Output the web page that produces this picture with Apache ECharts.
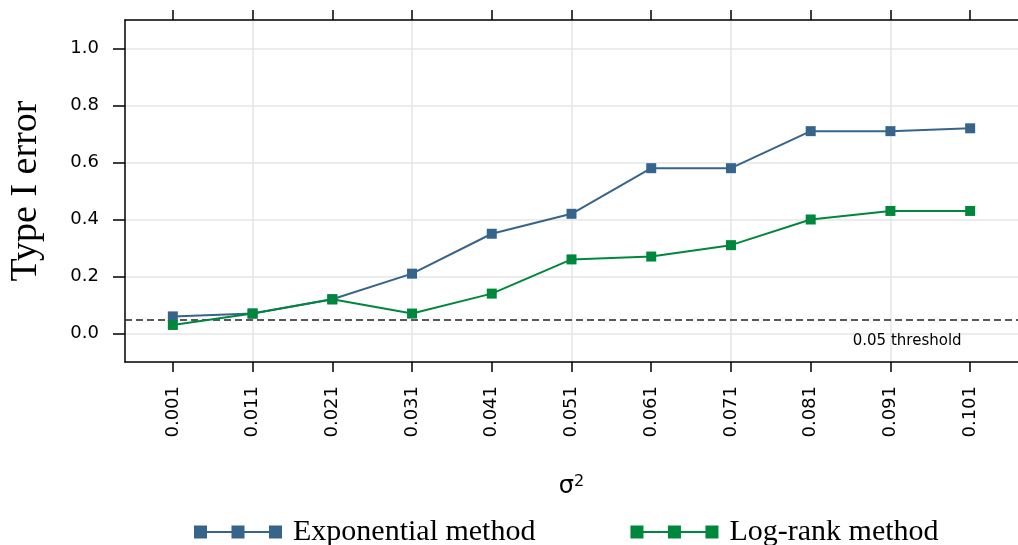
<!DOCTYPE html>
<html><head><meta charset="utf-8">
<script src="https://cdn.jsdelivr.net/npm/echarts@6/dist/echarts.min.js"></script>
<style>html,body{margin:0;padding:0;background:#fff}#c{width:1018px;height:545px}</style>
</head><body><div id="c"></div>
<script>
const sigma2 = [0.001, 0.011, 0.021, 0.031, 0.041, 0.051, 0.061, 0.071, 0.081, 0.091, 0.101];
const xTickLabels = ['0.001','0.011','0.021','0.031','0.041','0.051','0.061','0.071','0.081','0.091','0.101'];
const exponential = [0.06, 0.07, 0.12, 0.21, 0.35, 0.42, 0.58, 0.58, 0.71, 0.71, 0.72];
const logrank = [0.03, 0.07, 0.12, 0.07, 0.14, 0.26, 0.27, 0.31, 0.40, 0.43, 0.43];
const yTicks = [0, 0.2, 0.4, 0.6, 0.8, 1.0];
const xGridLines = [0.011, 0.031, 0.051, 0.071, 0.091];
const threshold = 0.05;
const seriesNames = ['Exponential method', 'Log-rank method'];
const colors = ['#36648b', '#00873e'];
const X_MIN = -0.005, X_MAX = 0.107, Y_MIN = -0.1, Y_MAX = 1.1;

const chart = echarts.init(document.getElementById('c'));
const legendIcon = 'path://M0,0H13V13H0Z M37.5,0H50.5V13H37.5Z M75,0H88V13H75Z M0,5.5H88V7.5H0Z';
const axisLineStyle = {color: '#000', width: 1.5};
chart.setOption({
  animation: false,
  grid: {left: 125, right: 0, top: 20, bottom: 183, containLabel: false, outerBoundsMode: 'none'},
  xAxis: [{
    type: 'value', min: X_MIN, max: X_MAX, position: 'bottom',
    axisLine: {show: true, onZero: false, lineStyle: axisLineStyle},
    axisTick: {show: true, length: 10, lineStyle: axisLineStyle, customValues: sigma2},
    axisLabel: {customValues: sigma2, rotate: 90, margin: 24, fontFamily: 'DejaVu Sans', fontSize: 18, color: '#000',
      formatter: v => { const i = sigma2.findIndex(s => Math.abs(s - v) < 1e-9); return i >= 0 ? xTickLabels[i] : ''; }},
    splitLine: {show: false},
    name: 'σ{sup|2}', nameLocation: 'middle', nameGap: 112,
    nameTextStyle: {fontFamily: 'DejaVu Sans', fontSize: 24, color: '#000', rich: {sup: {fontFamily: 'DejaVu Sans', fontSize: 16, verticalAlign: 'top', padding: [0,0,10,0]}}}
  }, {
    type: 'value', min: X_MIN, max: X_MAX, position: 'top',
    axisLine: {show: true, onZero: false, lineStyle: axisLineStyle},
    axisTick: {show: true, length: 10, lineStyle: axisLineStyle, customValues: sigma2},
    axisLabel: {show: false},
    splitLine: {show: false}
  }],
  yAxis: {
    type: 'value', min: Y_MIN, max: Y_MAX,
    axisLine: {show: true, onZero: false, lineStyle: axisLineStyle},
    axisTick: {show: true, length: 12, lineStyle: axisLineStyle, customValues: yTicks},
    axisLabel: {customValues: yTicks, margin: 26, fontFamily: 'DejaVu Sans', fontSize: 18, color: '#000', formatter: v => v.toFixed(1)},
    splitLine: {show: true, lineStyle: {color: '#e6e6e6', width: 1.5}},
    name: 'Type I error', nameLocation: 'middle', nameGap: 80,
    nameTextStyle: {fontFamily: 'Liberation Serif', fontSize: 38, color: '#000'}
  },
  legend: {
    bottom: -7, left: 189, itemGap: 95, itemWidth: 88, itemHeight: 13,
    textStyle: {fontFamily: 'Liberation Serif', fontSize: 30, color: '#000', padding: [0, 0, 0, 6]},
    data: seriesNames.map(n => ({name: n, icon: legendIcon}))
  },
  series: [{
    name: seriesNames[0], type: 'line', data: sigma2.map((x, i) => [x, exponential[i]]),
    symbol: 'rect', symbolSize: 10, color: colors[0], lineStyle: {width: 2, color: colors[0]}, z: 3,
    markLine: {silent: true, symbol: 'none', label: {show: false}, z: 1, precision: 4,
      lineStyle: {type: [7, 4], color: '#222', width: 1.5}, data: [{yAxis: threshold}]}
  }, {
    name: seriesNames[1], type: 'line', data: sigma2.map((x, i) => [x, logrank[i]]),
    symbol: 'rect', symbolSize: 10, color: colors[1], lineStyle: {width: 2, color: colors[1]}, z: 4,
    markLine: {silent: true, symbol: 'none', label: {show: false}, z: 0, precision: 4,
      lineStyle: {type: 'solid', color: '#e6e6e6', width: 1.5},
      data: xGridLines.map(x => [{coord: [x, Y_MIN]}, {coord: [x, Y_MAX]}])}
  }]
});
const p = chart.convertToPixel({xAxisIndex: 0, yAxisIndex: 0}, [0.0931, threshold]);
chart.setOption({graphic: [{type: 'text', x: p[0], y: p[1] + 14, style: {text: '0.05 threshold', fontFamily: 'DejaVu Sans', fontSize: 15, fill: '#000', align: 'center', verticalAlign: 'top'}}]});
</script></body></html>
